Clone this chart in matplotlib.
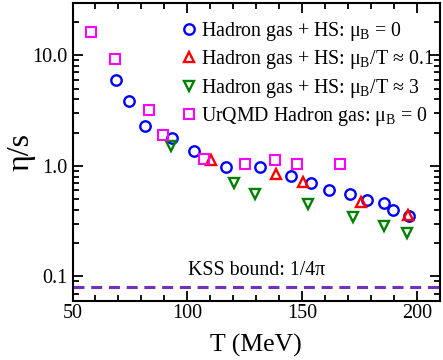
import matplotlib
matplotlib.use('Agg')
import matplotlib.pyplot as plt
import numpy as np

plt.rcParams['font.family'] = ['Liberation Serif', 'DejaVu Serif']
plt.rcParams['mathtext.fontset'] = 'custom'
plt.rcParams['mathtext.rm'] = 'Liberation Serif'
plt.rcParams['mathtext.it'] = 'Liberation Serif:italic'

# Hadron gas + HS, mu_B = 0
T_mu0 = [69.0, 74.7, 81.5, 93.3, 103.1, 116.9, 131.6, 145.2, 153.7, 161.6, 170.7, 178.2, 185.7, 189.7, 196.6]
eta_mu0 = [5.93, 3.86, 2.30, 1.77, 1.37, 0.98, 0.97, 0.81, 0.70, 0.60, 0.557, 0.492, 0.459, 0.40, 0.353]

# Hadron gas + HS, mu_B/T ~ 0.1
T_mu01 = [110.4, 138.6, 150.5, 175.5, 196.2]
eta_mu01 = [1.13, 0.84, 0.72, 0.475, 0.36]

# Hadron gas + HS, mu_B/T ~ 3
T_mu3 = [92.9, 120.4, 129.6, 152.7, 172.2, 185.7, 195.5]
eta_mu3 = [1.51, 0.70, 0.553, 0.45, 0.348, 0.283, 0.247]

# UrQMD hadron gas, mu_B = 0
T_urqmd = [58.1, 68.3, 83.4, 89.2, 107.1, 125.1, 138.0, 147.9, 166.4]
eta_urqmd = [16.2, 9.3, 3.18, 1.92, 1.15, 1.05, 1.14, 1.05, 1.05]

kss = 1 / (4 * np.pi)

fig = plt.figure(figsize=(4.43, 3.6), dpi=100)
ax = fig.add_axes([0.1637, 0.164, 0.8295, 0.829])

ms = 7.5
mew = 1.7
ax.plot(T_mu0, eta_mu0, 'o', ls='none', ms=ms, mew=mew, mfc='none', mec='#0000ff',
        label='Hadron gas + HS: μ$_\\mathrm{B}$ = 0')
ax.plot(T_mu01, eta_mu01, '^', ls='none', ms=ms, mew=mew, mfc='none', mec='#ff0000',
        label='Hadron gas + HS: μ$_\\mathrm{B}$/T ≈ 0.1')
ax.plot(T_mu3, eta_mu3, 'v', ls='none', ms=ms, mew=mew, mfc='none', mec='#008000',
        label='Hadron gas + HS: μ$_\\mathrm{B}$/T ≈ 3')
ax.plot(T_urqmd, eta_urqmd, 's', ls='none', ms=6.5, mew=1.5, mfc='none', mec='#ff00ff',
        label='UrQMD Hadron gas: μ$_\\mathrm{B}$ = 0')

ax.axhline(kss, color='#7030c0', lw=2.2, dashes=(3.6, 2.2))
ax.text(100.4, 0.112, 'KSS bound: 1/4π', fontsize=14.3, va='center', ha='left')

ax.set_yscale('log')
ax.set_xlim(50, 210)
ax.set_ylim(0.06, 30)
ax.set_xticks([50, 100, 150, 200])
ax.set_xticks(np.arange(50, 211, 10), minor=True)
ax.set_yticks([0.1, 1, 10])
ax.set_yticklabels(['0.1', '1.0', '10.0'])
ax.tick_params(which='both', direction='in', top=True, right=True, labelsize=14.5, width=1.3)
ax.tick_params(which='major', length=7)
ax.tick_params(which='minor', length=4)
ax.tick_params(axis='x', pad=2)
for s in ax.spines.values():
    s.set_linewidth(1.5)

ax.set_xlabel('T (MeV)', fontsize=18.5, labelpad=8)
ax.set_ylabel('η/s', fontsize=23, labelpad=-2)

ax.legend(loc='upper right', bbox_to_anchor=(1.0, 0.962), frameon=False, fontsize=14.3,
          handletextpad=0.05, handlelength=1.1, labelspacing=0.27, borderaxespad=0.0,
          borderpad=0.3)

fig.savefig('out.png', dpi=100)
